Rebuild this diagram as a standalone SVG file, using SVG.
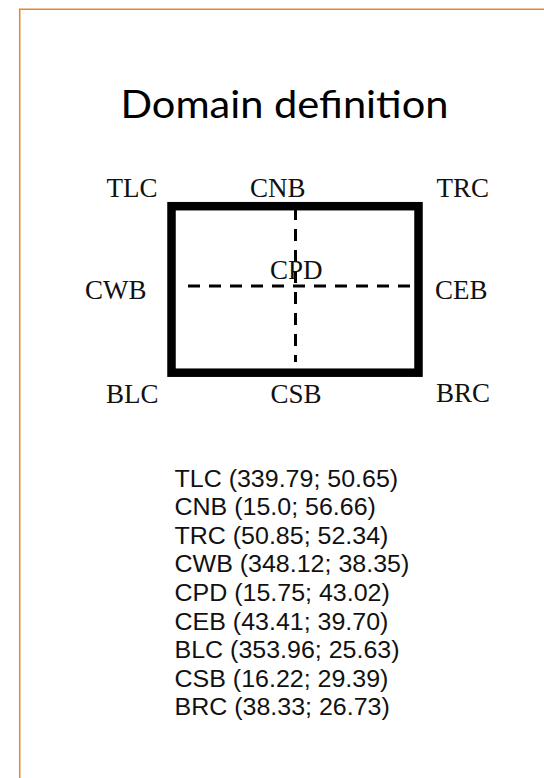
<svg xmlns="http://www.w3.org/2000/svg" width="544" height="778" viewBox="0 0 544 778">
  <style>
    .frame { fill: none; stroke: #E6852A; stroke-width: 1.5; }
    .title { font-family: Lato, "Open Sans", "Liberation Sans", sans-serif; font-size: 38.5px; fill: #000; }
    .lbl { font-family: "Liberation Serif", "Times New Roman", serif; font-size: 27px; fill: #111; }
    .list { font-family: "Liberation Sans", Arial, sans-serif; font-size: 23.5px; fill: #111; }
    .domain { fill: none; stroke: #000; stroke-width: 8.5; }
    .dash { fill: none; stroke: #000; stroke-width: 3; stroke-dasharray: 12 9; }
  </style>
  <rect width="544" height="778" fill="#fff"/>
  <path class="frame" d="M544,9.2 H19.7 V778"/>

  <g id="title">
    <text class="title" x="120.5" y="118.3" textLength="328" lengthAdjust="spacingAndGlyphs">Domain definition</text>
  </g>

  <g id="domain">
    <rect class="domain" x="171.5" y="206.2" width="247" height="166.5"/>
  </g>

  <g id="connectors">
    <line class="dash" x1="188" y1="286" x2="412" y2="286"/>
    <line class="dash" x1="295.5" y1="208" x2="295.5" y2="362"/>
  </g>

  <g id="TLC"><text class="lbl" x="106.5" y="197">TLC</text></g>
  <g id="CNB"><text class="lbl" x="250" y="197">CNB</text></g>
  <g id="TRC"><text class="lbl" x="436.5" y="197">TRC</text></g>
  <g id="CWB"><text class="lbl" x="85" y="299.3">CWB</text></g>
  <g id="CPD"><text class="lbl" x="270" y="279">CPD</text></g>
  <g id="CEB"><text class="lbl" x="435" y="299.3">CEB</text></g>
  <g id="BLC"><text class="lbl" x="106" y="403">BLC</text></g>
  <g id="CSB"><text class="lbl" x="270.5" y="403">CSB</text></g>
  <g id="BRC"><text class="lbl" x="436" y="402">BRC</text></g>

  <g id="coordinates" transform="translate(174.5,0) scale(1.064,1)">
    <text class="list" x="0" y="486.7">TLC (339.79; 50.65)</text>
    <text class="list" x="0" y="515.3">CNB (15.0; 56.66)</text>
    <text class="list" x="0" y="543.9">TRC (50.85; 52.34)</text>
    <text class="list" x="0" y="572.5">CWB (348.12; 38.35)</text>
    <text class="list" x="0" y="601.1">CPD (15.75; 43.02)</text>
    <text class="list" x="0" y="629.7">CEB (43.41; 39.70)</text>
    <text class="list" x="0" y="658.3">BLC (353.96; 25.63)</text>
    <text class="list" x="0" y="686.9">CSB (16.22; 29.39)</text>
    <text class="list" x="0" y="715.5">BRC (38.33; 26.73)</text>
  </g>
</svg>
